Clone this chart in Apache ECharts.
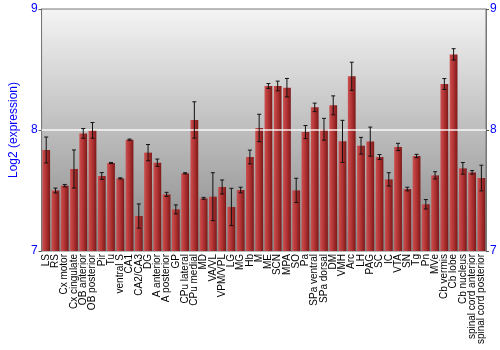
<!DOCTYPE html>
<html>
<head>
<meta charset="utf-8">
<script src="https://cdn.jsdelivr.net/npm/echarts@6/dist/echarts.min.js"></script>
<style>
  html, body { margin: 0; padding: 0; background: #fff; }
  #chart { width: 500px; height: 350px; }
</style>
</head>
<body>
<div id="chart"></div>
<script>
// brain regions
var regions = [
  "LS", "RS", "Cx motor", "Cx cingulate", "OB anterior", "OB posterior", "Pir", "Tu",
  "ventral S", "CA1", "CA2/CA3", "DG", "A anterior", "A posterior", "GP", "CPu lateral",
  "CPu medial", "MD", "VA/VL", "VPM/VPL", "LG", "MG", "Hb", "M", "ME", "SCN", "MPA", "SO",
  "Pa", "SPa ventral", "SPa dorsal", "DM", "VMH", "Arc", "LH", "PAG", "SC", "IC", "VTA",
  "SN", "Tg", "Pn", "MVe", "Cb vermis", "Cb lobe", "Cb nucleus",
  "spinal cord anterior", "spinal cord posterior"
];

// mean log2 expression
var means = [
  7.835, 7.50, 7.54, 7.678, 7.972, 7.997, 7.62, 7.727,
  7.60, 7.92, 7.289, 7.813, 7.73, 7.468, 7.344, 7.642,
  8.083, 7.435, 7.449, 7.529, 7.364, 7.504, 7.777, 8.017, 8.364, 8.364, 8.35, 7.501,
  7.983, 8.187, 8.006, 8.204, 7.906, 8.444, 7.87, 7.904, 7.777, 7.592, 7.86,
  7.512, 7.785, 7.386, 7.625, 8.38, 8.625, 7.683,
  7.65, 7.603
];

// error (+/-)
var errs = [
  0.107, 0.02, 0.01, 0.157, 0.04, 0.065, 0.028, 0.005,
  0.005, 0.005, 0.1, 0.067, 0.03, 0.017, 0.037, 0.005,
  0.15, 0.008, 0.198, 0.058, 0.154, 0.023, 0.057, 0.113, 0.02, 0.04, 0.076, 0.1,
  0.054, 0.035, 0.09, 0.078, 0.174, 0.116, 0.069, 0.12, 0.02, 0.055, 0.03,
  0.015, 0.014, 0.039, 0.03, 0.045, 0.047, 0.048,
  0.015, 0.106
];

var yTicks = [7, 8, 9];

var errData = regions.map(function (r, i) {
  return [i, means[i] - errs[i], means[i] + errs[i]];
});

var myChart = echarts.init(document.getElementById("chart"));

var axisCommon = {
  type: "value",
  min: yTicks[0],
  max: yTicks[yTicks.length - 1],
  interval: 1,
  axisLine: { show: true, lineStyle: { color: "#777" } },
  axisTick: { show: true, length: 3, lineStyle: { color: "#555" } },
  axisLabel: { color: "#0000ff", fontSize: 12, fontFamily: "Liberation Sans", margin: 4 },
  splitLine: { show: false }
};

var option = {
  animation: false,
  grid: {
    left: 27, right: 14, top: 9, bottom: 99,
    show: true,
    borderColor: "#777",
    borderWidth: 1,
    backgroundColor: new echarts.graphic.LinearGradient(0, 0, 0, 1, [
      { offset: 0, color: "#f4f4f4" },
      { offset: 1, color: "#878787" }
    ])
  },
  xAxis: {
    type: "category",
    data: regions,
    axisLine: { show: false },
    axisTick: { show: false },
    axisLabel: {
      rotate: 90,
      interval: 0,
      fontSize: 10,
      fontFamily: "Liberation Sans",
      color: "#000",
      margin: 3
    }
  },
  yAxis: [
    Object.assign({}, axisCommon, {
      position: "left",
      name: "Log2 (expression)",
      nameLocation: "middle",
      nameGap: 15,
      nameTextStyle: { color: "#0000ff", fontSize: 12, fontFamily: "Liberation Sans" }
    }),
    Object.assign({}, axisCommon, { position: "right" })
  ],
  series: [
    {
      type: "bar",
      data: means,
      barCategoryGap: "16%",
      itemStyle: {
        color: new echarts.graphic.LinearGradient(0, 0, 1, 0, [
          { offset: 0, color: "#cc5050" },
          { offset: 0.5, color: "#b03232" },
          { offset: 1, color: "#7c1818" }
        ])
      },
      markLine: {
        silent: true,
        symbol: "none",
        label: { show: false },
        lineStyle: { color: "#ffffff", width: 1.5, type: "solid", opacity: 0.9 },
        data: [{ yAxis: 8 }]
      }
    },
    {
      type: "custom",
      data: errData,
      z: 5,
      renderItem: function (params, api) {
        var x = api.value(0);
        var lo = api.coord([x, api.value(1)]);
        var hi = api.coord([x, api.value(2)]);
        var w = 2;
        var style = { stroke: "#111", lineWidth: 1 };
        return {
          type: "group",
          children: [
            { type: "line", shape: { x1: lo[0], y1: lo[1], x2: hi[0], y2: hi[1] }, style: style },
            { type: "line", shape: { x1: lo[0] - w, y1: lo[1], x2: lo[0] + w, y2: lo[1] }, style: style },
            { type: "line", shape: { x1: hi[0] - w, y1: hi[1], x2: hi[0] + w, y2: hi[1] }, style: style }
          ]
        };
      }
    }
  ]
};

myChart.setOption(option);
</script>
</body>
</html>
